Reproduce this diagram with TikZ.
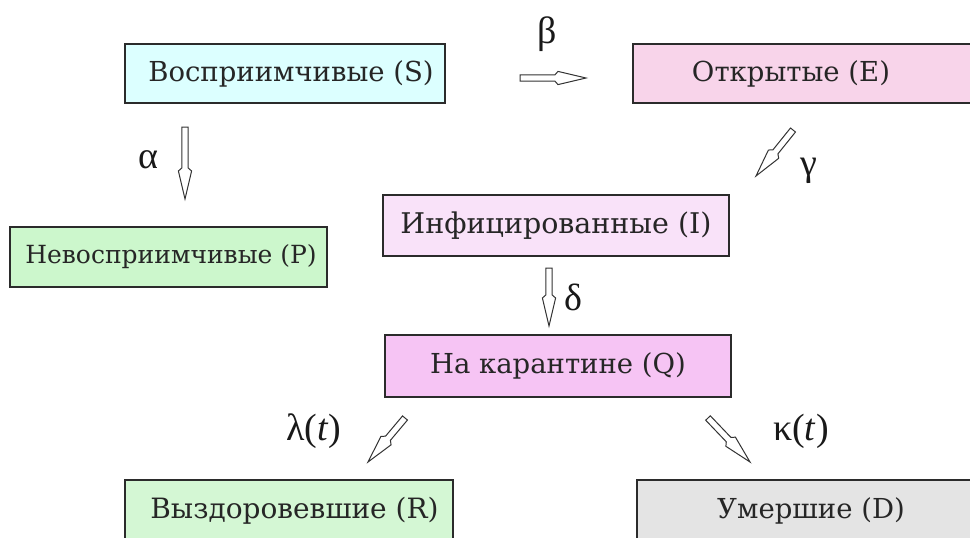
\documentclass[tikz,border=0pt]{standalone}
\usepackage{fontspec}
\setmainfont{Liberation Serif}
\newfontfamily\boxfont{DejaVu Serif}
\usetikzlibrary{calc}
\definecolor{boxline}{HTML}{2B2B2B}
\definecolor{cS}{HTML}{DCFFFF}
\definecolor{cE}{HTML}{F8D4EA}
\definecolor{cP}{HTML}{CCF7CC}
\definecolor{cI}{HTML}{F9E2F9}
\definecolor{cQ}{HTML}{F6C4F4}
\definecolor{cR}{HTML}{D4F7D4}
\definecolor{cD}{HTML}{E4E4E4}
\newcommand\blockarrow[2]{%
  \coordinate (bj) at ($(#2)!31pt!(#1)$);
  \coordinate (bb) at ($(#2)!28pt!(#1)$);
  \draw[barrow] ($(#1)!3.2pt!90:(#2)$) -- ($(bj)!3.2pt!-90:(#1)$) -- ($(bb)!6.6pt!-90:(#1)$) -- (#2) -- ($(bb)!6.6pt!90:(#1)$) -- ($(bj)!3.2pt!90:(#1)$) -- ($(#1)!3.2pt!-90:(#2)$) -- cycle;}
\begin{document}
\begin{tikzpicture}[x=1pt,y=-1pt,
  box/.style={draw=boxline, line width=1.6pt, inner sep=0pt, font=\boxfont\fontsize{27.5}{32}\selectfont, text=black!85},
  greek/.style={font=\fontsize{38}{42}\selectfont, inner sep=0pt, text=black!90},
  barrow/.style={draw=black!80, fill=white, line width=1pt, line join=miter}]
\useasboundingbox (0,0) rectangle (970,538);
\fill[white] (0,0) rectangle (970,538);
% boxes
\node[box, fill=cS, minimum width=320pt, minimum height=59pt] (S) at (285,73.5) {\hspace*{12pt}Восприимчивые (S)};
\node[box, fill=cE, minimum width=350pt, minimum height=59pt, label={[xshift=-17pt, font=\boxfont\fontsize{27.5}{32}\selectfont, text=black!85]center:Открытые (E)}] (E) at (808,73.5) {};
\node[box, fill=cP, minimum width=317pt, minimum height=60pt, font=\boxfont\fontsize{25}{30}\selectfont] (P) at (168.5,257) {\hspace*{5pt}Невосприимчивые (P)};
\node[box, fill=cI, minimum width=346pt, minimum height=61pt, font=\boxfont\fontsize{28.5}{32}\selectfont] (I) at (556,225.5) {Инфицированные (I)};
\node[box, fill=cQ, minimum width=346pt, minimum height=62pt] (Q) at (558,366) {На карантине (Q)};
\node[box, fill=cR, minimum width=328pt, minimum height=62pt, font=\boxfont\fontsize{28}{32}\selectfont] (R) at (289,511) {\hspace*{11pt}Выздоровевшие (R)};
\node[box, fill=cD, minimum width=348pt, minimum height=62pt] (D) at (811,511) {Умершие (D)};
% arrow end points
\coordinate (b1) at (520,78); \coordinate (b2) at (586,78);
\coordinate (a1) at (185,127); \coordinate (a2) at (185,199);
\coordinate (g1) at (793,130); \coordinate (g2) at (756,176);
\coordinate (d1) at (549,268); \coordinate (d2) at (549,326);
\coordinate (l1) at (405,418); \coordinate (l2) at (368,462);
\coordinate (k1) at (708,418); \coordinate (k2) at (750,462);
\blockarrow{b1}{b2}
\blockarrow{a1}{a2}
\blockarrow{g1}{g2}
\blockarrow{d1}{d2}
\blockarrow{l1}{l2}
\blockarrow{k1}{k2}
% labels
\node[greek] (beta) at (547,34) {β};
\node[greek] (alpha) at (148,160) {α};
\node[greek] (gamma) at (809,171) {γ};
\node[greek] (delta) at (573,297) {δ};
\node[greek] (lambda) at (314,431) {λ(\textit{t})};
\node[greek] (kappa) at (801,431) {κ(\textit{t})};
\end{tikzpicture}
\end{document}
